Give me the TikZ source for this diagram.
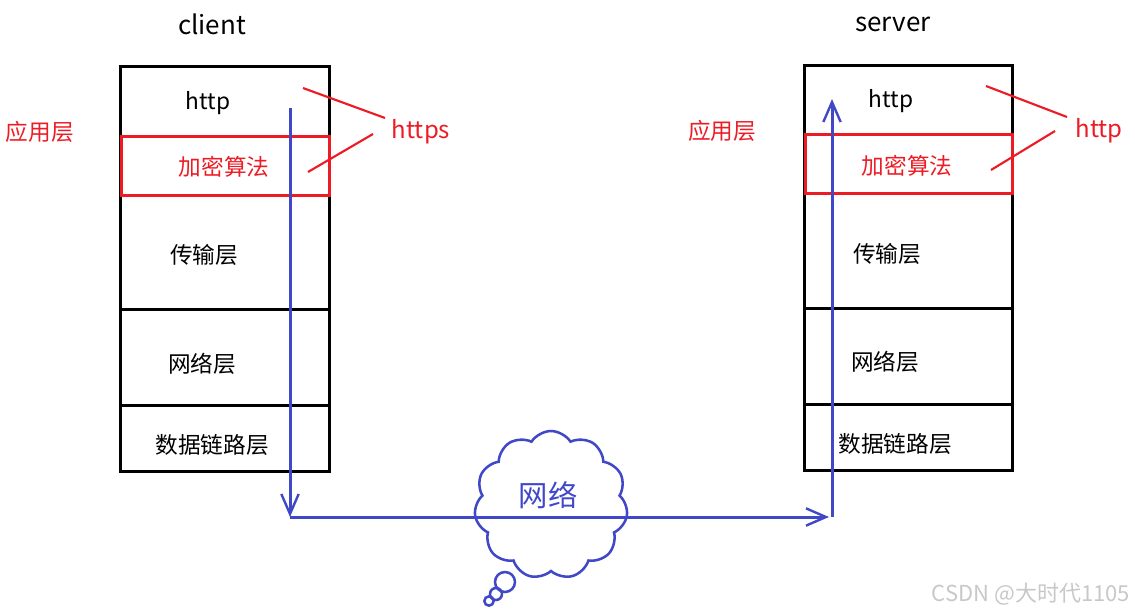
\documentclass[tikz,border=0pt]{standalone}
\usepackage{fontspec}
\setmainfont{Noto Sans CJK SC}
\usetikzlibrary{arrows.meta,shapes.symbols}
\definecolor{netblue}{RGB}{64,72,200}
\definecolor{hired}{RGB}{237,28,36}
\definecolor{wmgrey}{RGB}{200,200,200}
\tikzset{
  px/.style={x=0.75pt,y=-0.75pt},
  stackbox/.style={draw=black,line width=2.25pt},
  cryptobox/.style={draw=hired,line width=2.25pt},
  divider/.style={draw=black,line width=2.25pt},
  lbl/.style={font=\fontsize{17}{20}\selectfont,text=black,inner sep=0pt,yshift=-1.5pt},
  redlbl/.style={font=\fontsize{17}{20}\selectfont,text=hired,inner sep=0pt,yshift=-1.5pt},
  title/.style={font=\fontsize{19.5}{23}\selectfont,text=black,inner sep=0pt,yshift=-1.5pt},
  pointer/.style={draw=hired,line width=1.6pt},
  flow/.style={draw=netblue,line width=2.25pt,-{Straight Barb[length=15pt,width=13pt,line width=1.8pt]}},
  bubble/.style={draw=netblue,line width=1.9pt,circle,inner sep=0pt},
}
\begin{document}
\begin{tikzpicture}[px]
\useasboundingbox (0,0) rectangle (1135,614);
% ---- left stack (client)
\coordinate (LTL) at (120,66);
\coordinate (LBR) at (329,471);
\draw[stackbox] (LTL) rectangle (LBR);
\coordinate (Ld1a) at (120,309); \coordinate (Ld1b) at (329,309);
\coordinate (Ld2a) at (120,405); \coordinate (Ld2b) at (329,405);
\draw[divider] (Ld1a) -- (Ld1b);
\draw[divider] (Ld2a) -- (Ld2b);
\coordinate (LRa) at (121,136); \coordinate (LRb) at (329,195);
\draw[cryptobox] (LRa) rectangle (LRb);
% ---- right stack (server)
\coordinate (RTL) at (804,65);
\coordinate (RBR) at (1012,470);
\draw[stackbox] (RTL) rectangle (RBR);
\coordinate (Rd1a) at (804,308); \coordinate (Rd1b) at (1012,308);
\coordinate (Rd2a) at (804,404); \coordinate (Rd2b) at (1012,404);
\draw[divider] (Rd1a) -- (Rd1b);
\draw[divider] (Rd2a) -- (Rd2b);
\coordinate (RRa) at (805,134); \coordinate (RRb) at (1012,193);
\draw[cryptobox] (RRa) rectangle (RRb);
% ---- titles
\node[title] (client) at (212,22) {client};
\node[title] (server) at (893,22) {server};
% ---- left labels
\node[lbl] (lhttp) at (208,101) {http};
\node[redlbl] (lcrypt) at (224,165) {加密算法};
\node[lbl] (ltrans) at (204,253) {传输层};
\node[lbl] (lnet) at (202,362) {网络层};
\node[lbl] (llink) at (212,443) {数据链路层};
\node[redlbl] (lapp) at (40,130) {应用层};
\node[redlbl,font=\fontsize{18}{21}\selectfont] (https) at (421,130) {https};
% ---- right labels
\node[lbl] (rhttp) at (891,99) {http};
\node[redlbl] (rcrypt) at (907,164) {加密算法};
\node[lbl] (rtrans) at (887,252) {传输层};
\node[lbl] (rnet) at (885,360) {网络层};
\node[lbl] (rlink) at (895,442) {数据链路层};
\node[redlbl] (rapp) at (722,129) {应用层};
\node[redlbl,font=\fontsize{18}{21}\selectfont] (rhttp2) at (1099,129) {http};
% ---- red pointer lines
\coordinate (lp1) at (303,88);  \coordinate (lp1e) at (385,118);
\coordinate (lp2) at (308,172); \coordinate (lp2e) at (373,134);
\draw[pointer] (lp1) -- (lp1e);
\draw[pointer] (lp2) -- (lp2e);
\coordinate (rp1) at (986,86);  \coordinate (rp1e) at (1067,117);
\coordinate (rp2) at (991,170); \coordinate (rp2e) at (1055,131);
\draw[pointer] (rp1) -- (rp1e);
\draw[pointer] (rp2) -- (rp2e);
% ---- cloud
\node[cloud, cloud puffs=11, cloud puff arc=115, draw=netblue, line width=1.9pt,
      minimum width=115pt, minimum height=111pt, inner sep=0pt] (cloud) at (551,505) {};
\node[font=\fontsize{22}{25}\selectfont,text=netblue,inner sep=0pt] (net) at (548,495) {网络};
\node[bubble,minimum size=15pt] (b1) at (505,582) {};
\node[bubble,minimum size=9pt] (b2) at (496,594) {};
\node[bubble,minimum size=7pt] (b3) at (489,601) {};
% ---- blue flow
\coordinate (s0) at (290,108);
\coordinate (s1) at (290,517);
\coordinate (s2) at (829,517);
\coordinate (t0) at (832,517);
\coordinate (t1) at (832,99);
\draw[flow] (s0) -- (s1);
\draw[flow] (s1) -- (s2);
\draw[flow] (t0) -- (t1);
% ---- watermark
\node[font=\fontsize{16.5}{19}\selectfont,text=wmgrey,inner sep=0pt] (wm) at (1031,594) {CSDN @大时代1105};
\end{tikzpicture}
\end{document}
